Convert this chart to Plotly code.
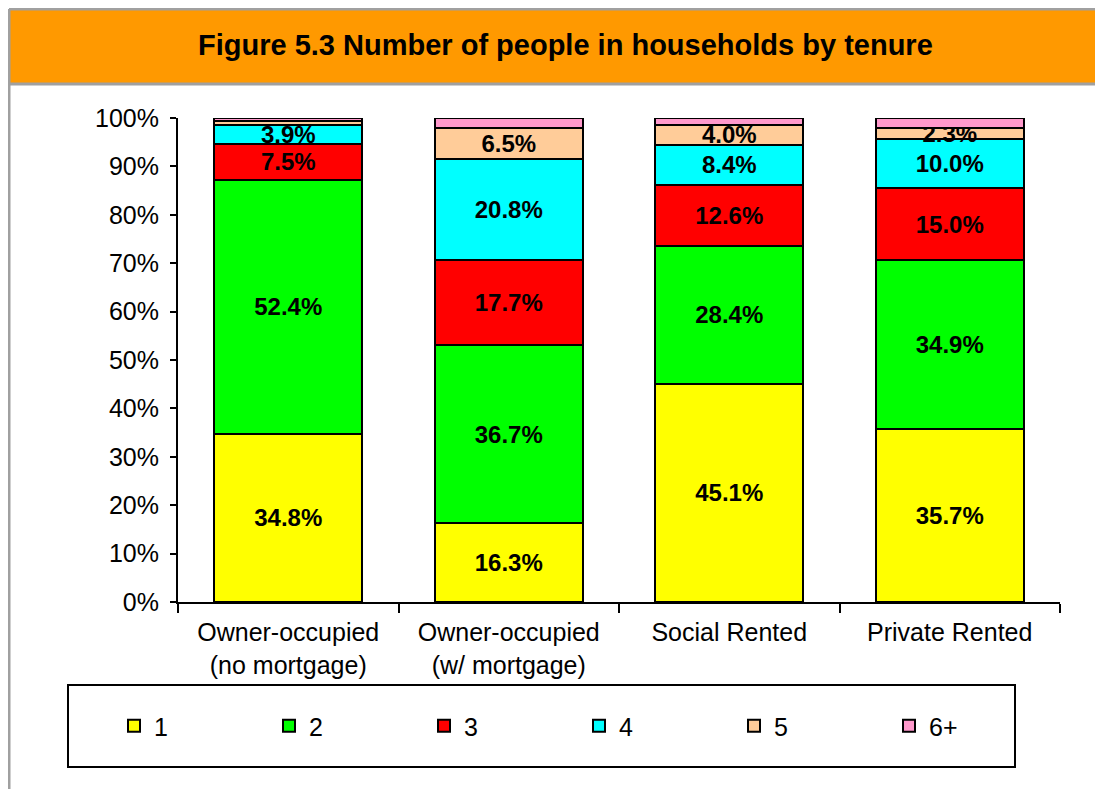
import plotly.graph_objects as go

# the page puts an 8px body margin around the figure, so work in page pixels
# and shift everything back by OFF
OFF = 8
W, H = 1103 - OFF, 789 - OFF
L, R, T, B = 178 - OFF, 43, 118 - OFF, 187  # plot area on page: x 178..1060, y 118..602

categories = ["Owner-occupied<br>(no mortgage)", "Owner-occupied<br>(w/ mortgage)",
              "Social Rented", "Private Rented"]
series_names = ["1", "2", "3", "4", "5", "6+"]
people_1 = [34.8, 16.3, 45.1, 35.7]
people_2 = [52.4, 36.7, 28.4, 34.9]
people_3 = [7.5, 17.7, 12.6, 15.0]
people_4 = [3.9, 20.8, 8.4, 10.0]
people_5 = [0.8, 6.5, 4.0, 2.3]
people_6 = [0.6, 2.0, 1.5, 2.1]
colors = ["#FFFF00", "#00FF00", "#FF0000", "#00FFFF", "#FFCC99", "#FF99CC"]
y_ticks = [0, 10, 20, 30, 40, 50, 60, 70, 80, 90, 100]


def px_x(p):
    return (p - OFF - L) / (W - L - R)


def px_y(p):
    return (H - B - (p - OFF)) / (H - T - B)


fig = go.Figure()
all_series = [people_1, people_2, people_3, people_4, people_5, people_6]
for name, vals, col in zip(series_names, all_series, colors):
    # 6+ is never labelled; tiny segments are skipped as in the original
    labels = ["" if (name == "6+" or v < 2) else f"{v:.1f}%" for v in vals]
    fig.add_trace(go.Bar(
        name=name, x=categories, y=vals,
        marker=dict(color=col, line=dict(color="black", width=2)),
        text=labels, textposition="inside", insidetextanchor="middle",
        textangle=0, constraintext="none",
        textfont=dict(family="Liberation Sans", size=24, color="black", weight="bold"),
        hoverinfo="skip",
    ))

shapes = [
    # orange header band
    dict(type="rect", xref="paper", yref="paper",
         x0=px_x(9), x1=px_x(1120), y0=px_y(84), y1=px_y(10),
         fillcolor="#FF9900", line=dict(width=0), layer="below"),
    # grey frame
    dict(type="line", xref="paper", yref="paper", x0=px_x(9), x1=px_x(1120),
         y0=px_y(9), y1=px_y(9), line=dict(color="#A0A0A0", width=3)),
    dict(type="line", xref="paper", yref="paper", x0=px_x(9), x1=px_x(1120),
         y0=px_y(84), y1=px_y(84), line=dict(color="#A0A0A0", width=3)),
    dict(type="line", xref="paper", yref="paper", x0=px_x(9), x1=px_x(9),
         y0=px_y(9), y1=px_y(800), line=dict(color="#A0A0A0", width=3)),
    # legend box
    dict(type="rect", xref="paper", yref="paper",
         x0=px_x(68), x1=px_x(1015), y0=px_y(767), y1=px_y(685),
         line=dict(color="black", width=2), fillcolor="rgba(0,0,0,0)"),
]

fig.update_layout(
    width=W, height=H,
    margin=dict(l=L, r=R, t=T, b=B),
    paper_bgcolor="white", plot_bgcolor="white",
    barmode="stack", bargap=0.33,
    font=dict(family="Liberation Sans", size=25, color="black"),
    uniformtext=dict(minsize=24, mode="show"),
    shapes=shapes,
    annotations=[dict(
        text="<b>Figure 5.3 Number of people in households by tenure</b>",
        xref="paper", yref="paper", x=px_x(565), y=px_y(45),
        xanchor="center", yanchor="middle", showarrow=False,
        font=dict(family="Liberation Sans", size=29, color="black"),
    )],
    legend=dict(
        orientation="h", x=px_x(114), y=px_y(726),
        xanchor="left", yanchor="middle",
        entrywidth=110, entrywidthmode="pixels",
        traceorder="normal", bgcolor="rgba(0,0,0,0)",
        font=dict(family="Liberation Sans", size=25, color="black"),
    ),
    xaxis=dict(
        showline=True, linecolor="black", linewidth=2,
        ticks="outside", tickson="boundaries", ticklen=9, tickwidth=2,
        tickcolor="black", showgrid=False,
        tickfont=dict(size=25), ticklabelstandoff=7,
    ),
    yaxis=dict(
        range=[0, 100], tickvals=y_ticks, ticktext=[f"{t}%" for t in y_ticks],
        showline=True, linecolor="black", linewidth=2,
        ticks="outside", ticklen=6, tickwidth=2, tickcolor="black",
        showgrid=False, zeroline=False, tickfont=dict(size=25),
        ticklabelstandoff=6,
    ),
)

fig.write_html("out.html")
